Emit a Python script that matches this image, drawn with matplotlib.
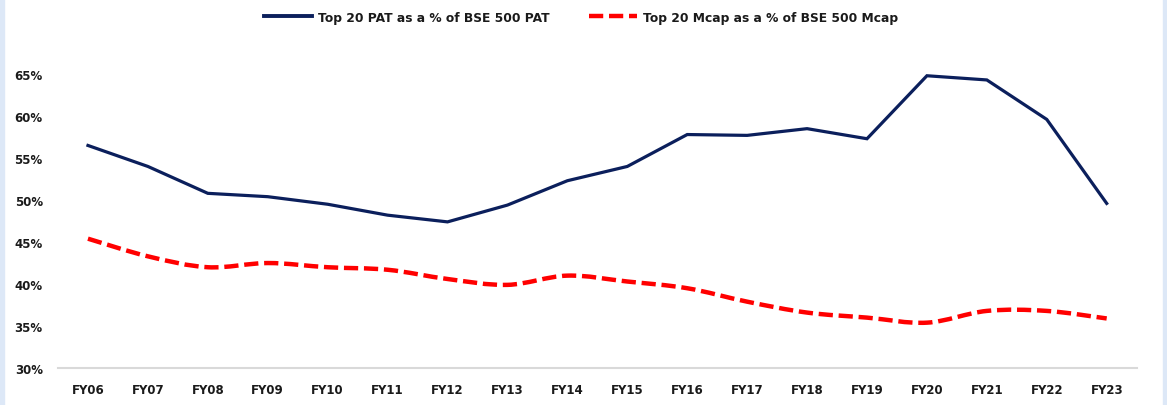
import numpy as np
import matplotlib
matplotlib.use("Agg")
import matplotlib.pyplot as plt
from matplotlib.path import Path
from matplotlib.patches import PathPatch, Rectangle
from matplotlib.lines import Line2D

years = ["FY06", "FY07", "FY08", "FY09", "FY10", "FY11", "FY12", "FY13", "FY14",
         "FY15", "FY16", "FY17", "FY18", "FY19", "FY20", "FY21", "FY22", "FY23"]
pat_share = [56.5, 54.0, 50.8, 50.4, 49.5, 48.2, 47.4, 49.4, 52.3,
             54.0, 57.8, 57.7, 58.5, 57.3, 64.8, 64.3, 59.6, 49.6]
mcap_share = [45.4, 43.3, 42.0, 42.5, 42.0, 41.7, 40.6, 39.9, 41.0,
              40.3, 39.5, 37.9, 36.6, 36.0, 35.4, 36.8, 36.8, 35.9]
yticks = [30, 35, 40, 45, 50, 55, 60, 65]

navy = "#0b1f5c"
red = "#ff0000"
txt = "#1a1a1a"
dash = (0, (3.2, 1.3))

fig = plt.figure(figsize=(11.67, 4.06), dpi=100)
# light blue frame around the picture
fig.patches.append(Rectangle((0, 0), 0.003, 1, transform=fig.transFigure, color="#dde8f7", zorder=0))
fig.patches.append(Rectangle((0.9966, 0), 0.0034, 1, transform=fig.transFigure, color="#dde8f7", zorder=0))

ax = fig.add_axes([0.0497, 0.0911, 0.9243, 0.724])
x = np.arange(len(years))

ax.plot(x, pat_share, color=navy, lw=2.3, solid_joinstyle="miter", clip_on=False, zorder=3)

# smoothed red line (Excel style) -> cubic bezier through the data points
pts = np.column_stack([x, mcap_share]).astype(float)
verts = [tuple(pts[0])]
codes = [Path.MOVETO]
for i in range(len(pts) - 1):
    p0 = pts[i - 1] if i > 0 else pts[i]
    p1, p2 = pts[i], pts[i + 1]
    p3 = pts[i + 2] if i + 2 < len(pts) else pts[i + 1]
    c1 = p1 + (p2 - p0) / 6.0
    c2 = p2 - (p3 - p1) / 6.0
    verts += [tuple(c1), tuple(c2), tuple(p2)]
    codes += [Path.CURVE4] * 3
ax.add_patch(PathPatch(Path(verts, codes), fill=False, edgecolor=red, lw=3.2,
                       linestyle=dash, capstyle="butt", zorder=3))

ax.set_xlim(-0.5, len(years) - 0.5)
ax.set_ylim(30, 65)
ax.set_xticks(x)
ax.set_xticklabels(years)
ax.set_yticks(yticks)
ax.set_yticklabels([f"{v}%" for v in yticks])
for s in ["top", "right", "left"]:
    ax.spines[s].set_visible(False)
ax.spines["bottom"].set_color("#d9d9d9")
ax.spines["bottom"].set_linewidth(1.5)
ax.tick_params(axis="both", length=0, labelsize=8.5, labelcolor=txt)
ax.tick_params(axis="x", pad=11)
ax.tick_params(axis="y", pad=11)
for lab in ax.get_xticklabels() + ax.get_yticklabels():
    lab.set_fontweight("bold")

handles = [Line2D([], [], color=navy, lw=2.8),
           Line2D([], [], color=red, lw=3.2, linestyle=dash)]
fig.legend(handles, ["Top 20 PAT as a % of BSE 500 PAT", "Top 20 Mcap as a % of BSE 500 Mcap"],
           loc="center", bbox_to_anchor=(0.498, 0.955), ncol=2, frameon=False,
           prop={"weight": "bold", "size": 8.8}, handlelength=3.9, handletextpad=0.55,
           columnspacing=3.2, labelcolor=txt)

fig.savefig("out.png", dpi=100)
